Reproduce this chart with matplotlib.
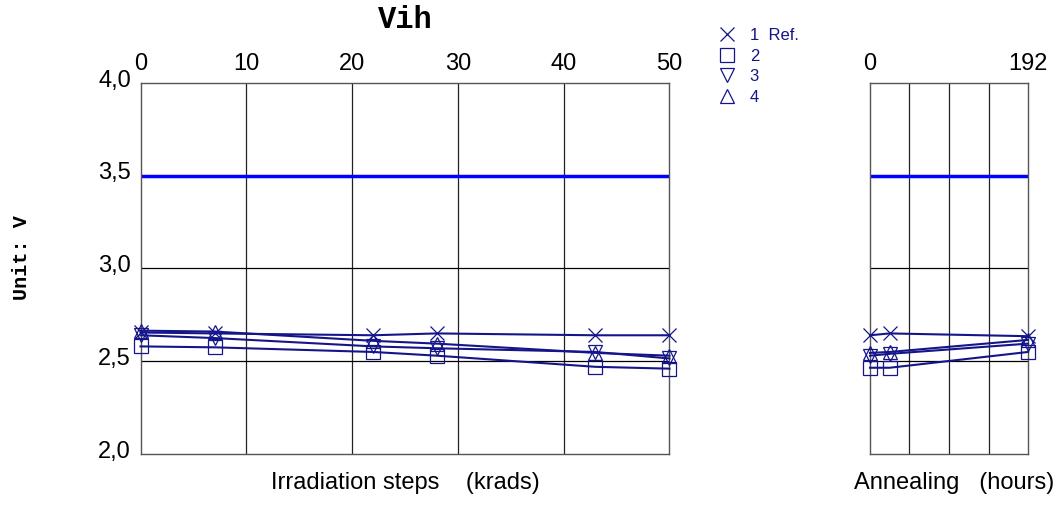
import numpy as np
import matplotlib.pyplot as plt
import matplotlib.transforms as mtransforms
from matplotlib.lines import Line2D

# irradiation steps (krads) and annealing time (hours)
irr_x = [0, 7, 22, 28, 43, 50]
ann_x = [0, 24, 192]

# Vih readings, one list per device
irr_1 = [2.655, 2.650, 2.640, 2.650, 2.640, 2.640]
irr_2 = [2.580, 2.575, 2.550, 2.530, 2.470, 2.460]
irr_3 = [2.640, 2.625, 2.580, 2.570, 2.550, 2.515]
irr_4 = [2.665, 2.660, 2.610, 2.595, 2.545, 2.530]

ann_1 = [2.640, 2.650, 2.635]
ann_2 = [2.465, 2.465, 2.550]
ann_3 = [2.530, 2.540, 2.595]
ann_4 = [2.545, 2.550, 2.615]

limit = 3.5
labels = ['1  Ref.', '2', '3', '4']
markers = ['x', 's', 'v', '^']
navy = '#15158a'

plt.rcParams['font.family'] = ['Liberation Sans', 'DejaVu Sans']

fig = plt.figure(figsize=(10.62, 5.24), dpi=100)
ax1 = fig.add_axes([0.1323, 0.1336, 0.4981, 0.708])
ax2 = fig.add_axes([0.8192, 0.1336, 0.1488, 0.708])


def style(ax, xmax, xticks, xtl, grid_x):
    ax.set_xlim(0, xmax)
    ax.set_ylim(2.0, 4.0)
    ax.xaxis.tick_top()
    ax.set_xticks(xticks)
    ax.set_xticklabels(xtl, fontsize=17)
    ax.tick_params(axis='x', length=0, pad=6)
    for g in grid_x:
        ax.axvline(g, color='#222222', lw=0.9, zorder=1)
    for g in [2.5, 3.0]:
        ax.axhline(g, color='black', lw=0.9, zorder=1)
    for s in ax.spines.values():
        s.set_color('#555555')
        s.set_linewidth(1.0)
    ax.axhline(limit, color='#0000ff', lw=2.5, zorder=2)


style(ax1, 50, [0, 10, 20, 30, 40, 50], ['0', '10', '20', '30', '40', '50'],
      [10, 20, 30, 40])
ax1.set_yticks([2.0, 2.5, 3.0, 3.5, 4.0])
ax1.set_yticklabels(['2,0', '2,5', '3,0', '3,5', '4,0'], fontsize=17)
ax1.tick_params(axis='y', length=0, pad=7)
shift = mtransforms.ScaledTranslation(0, 3.5 / 72, fig.dpi_scale_trans)
for lbl in ax1.get_yticklabels():
    lbl.set_transform(lbl.get_transform() + shift)

style(ax2, 192, [0, 192], ['0', '192'], [48, 96, 144])
ax2.set_yticks([])

irr = [irr_1, irr_2, irr_3, irr_4]
ann = [ann_1, ann_2, ann_3, ann_4]
for ys, m in zip(irr, markers):
    ax1.plot(irr_x, ys, color=navy, lw=1.5, marker=m, ms=10, mfc='none',
             mec=navy, mew=0.9, clip_on=False, zorder=3)
for ys, m in zip(ann, markers):
    ax2.plot(ann_x, ys, color=navy, lw=1.5, marker=m, ms=10, mfc='none',
             mec=navy, mew=0.9, clip_on=False, zorder=3)

fig.text(0.3814, 0.962, 'Vih', family='Liberation Mono', weight='bold',
         fontsize=22, ha='center', va='center')
fig.text(0.02, 0.508, 'Unit: V', family='Liberation Mono', weight='bold',
         fontsize=14.5, rotation=90, ha='center', va='center')
fig.text(0.3814, 0.078, 'Irradiation steps    (krads)', fontsize=17,
         ha='center', va='center')
fig.text(0.8987, 0.078, 'Annealing   (hours)', fontsize=17,
         ha='center', va='center')

handles = [Line2D([], [], ls='none', marker=m, ms=9.5, mfc='none', mec=navy,
                  mew=0.9) for m in markers]
leg = fig.legend(handles, labels, loc='upper left',
                 bbox_to_anchor=(0.677, 0.946), frameon=False, fontsize=12,
                 handlelength=1.0, handletextpad=0.85, labelspacing=0.33,
                 borderpad=0, borderaxespad=0)
for t in leg.get_texts():
    t.set_color(navy)

fig.savefig('out.png', dpi=100)
